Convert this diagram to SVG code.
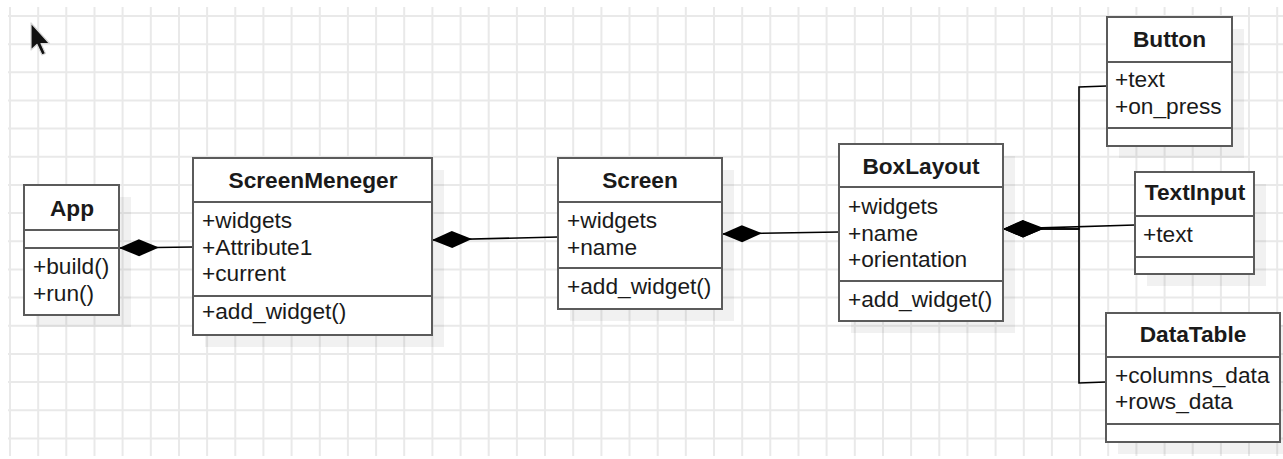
<svg xmlns="http://www.w3.org/2000/svg" width="1283" height="459" viewBox="0 0 1283 459">
  <style>
    .grid line { stroke: #e9e9e9; stroke-width: 2; }
    .shadow { fill: #000; fill-opacity: 0.055; }
    .box { fill: #fff; stroke: #5b5b5b; stroke-width: 2; }
    .div { stroke: #5b5b5b; stroke-width: 2; }
    .title { font-family: "Liberation Sans", Arial, sans-serif; font-size: 22.7px; font-weight: bold; fill: #1a1a1a; text-anchor: middle; }
    .item { font-family: "Liberation Sans", Arial, sans-serif; font-size: 22.7px; fill: #1a1a1a; }
    .conn { fill: none; stroke: #000; stroke-width: 1.6; marker-start: url(#diamond); }
  </style>
  <defs>
    <!-- filled composition diamond, drawn from the owner's edge outward -->
    <marker id="diamond" markerUnits="userSpaceOnUse" viewBox="-1 -10 43 20" markerWidth="43" markerHeight="20" refX="0" refY="0" orient="auto" overflow="visible">
      <path d="M0,0 L20,-8.5 L40,0 L20,8.5 Z" fill="#000"/>
    </marker>
  </defs>

  <rect width="1283" height="459" fill="#fff"/>

  <!-- background grid -->
  <g class="grid" id="grid">
    <line x1="10" y1="7" x2="10" y2="456"/><line x1="38.2" y1="7" x2="38.2" y2="456"/><line x1="66.3" y1="7" x2="66.3" y2="456"/><line x1="94.5" y1="7" x2="94.5" y2="456"/><line x1="122.6" y1="7" x2="122.6" y2="456"/><line x1="150.8" y1="7" x2="150.8" y2="456"/><line x1="179" y1="7" x2="179" y2="456"/><line x1="207.1" y1="7" x2="207.1" y2="456"/><line x1="235.3" y1="7" x2="235.3" y2="456"/><line x1="263.4" y1="7" x2="263.4" y2="456"/><line x1="291.6" y1="7" x2="291.6" y2="456"/><line x1="319.8" y1="7" x2="319.8" y2="456"/><line x1="347.9" y1="7" x2="347.9" y2="456"/><line x1="376.1" y1="7" x2="376.1" y2="456"/><line x1="404.2" y1="7" x2="404.2" y2="456"/><line x1="432.4" y1="7" x2="432.4" y2="456"/><line x1="460.6" y1="7" x2="460.6" y2="456"/><line x1="488.7" y1="7" x2="488.7" y2="456"/><line x1="516.9" y1="7" x2="516.9" y2="456"/><line x1="545" y1="7" x2="545" y2="456"/><line x1="573.2" y1="7" x2="573.2" y2="456"/><line x1="601.4" y1="7" x2="601.4" y2="456"/><line x1="629.5" y1="7" x2="629.5" y2="456"/><line x1="657.7" y1="7" x2="657.7" y2="456"/><line x1="685.8" y1="7" x2="685.8" y2="456"/><line x1="714" y1="7" x2="714" y2="456"/><line x1="742.2" y1="7" x2="742.2" y2="456"/><line x1="770.3" y1="7" x2="770.3" y2="456"/><line x1="798.5" y1="7" x2="798.5" y2="456"/><line x1="826.6" y1="7" x2="826.6" y2="456"/><line x1="854.8" y1="7" x2="854.8" y2="456"/><line x1="883" y1="7" x2="883" y2="456"/><line x1="911.1" y1="7" x2="911.1" y2="456"/><line x1="939.3" y1="7" x2="939.3" y2="456"/><line x1="967.4" y1="7" x2="967.4" y2="456"/><line x1="995.6" y1="7" x2="995.6" y2="456"/><line x1="1023.8" y1="7" x2="1023.8" y2="456"/><line x1="1051.9" y1="7" x2="1051.9" y2="456"/><line x1="1080.1" y1="7" x2="1080.1" y2="456"/><line x1="1108.2" y1="7" x2="1108.2" y2="456"/><line x1="1136.4" y1="7" x2="1136.4" y2="456"/><line x1="1164.6" y1="7" x2="1164.6" y2="456"/><line x1="1192.7" y1="7" x2="1192.7" y2="456"/><line x1="1220.9" y1="7" x2="1220.9" y2="456"/><line x1="1249" y1="7" x2="1249" y2="456"/><line x1="1277.2" y1="7" x2="1277.2" y2="456"/>
    <line x1="8" y1="16" x2="1283" y2="16"/><line x1="8" y1="44.2" x2="1283" y2="44.2"/><line x1="8" y1="72.3" x2="1283" y2="72.3"/><line x1="8" y1="100.5" x2="1283" y2="100.5"/><line x1="8" y1="128.6" x2="1283" y2="128.6"/><line x1="8" y1="156.8" x2="1283" y2="156.8"/><line x1="8" y1="185" x2="1283" y2="185"/><line x1="8" y1="213.1" x2="1283" y2="213.1"/><line x1="8" y1="241.3" x2="1283" y2="241.3"/><line x1="8" y1="269.4" x2="1283" y2="269.4"/><line x1="8" y1="297.6" x2="1283" y2="297.6"/><line x1="8" y1="325.8" x2="1283" y2="325.8"/><line x1="8" y1="353.9" x2="1283" y2="353.9"/><line x1="8" y1="382.1" x2="1283" y2="382.1"/><line x1="8" y1="410.2" x2="1283" y2="410.2"/><line x1="8" y1="438.4" x2="1283" y2="438.4"/>
  </g>

  <!-- mouse pointer -->
  <path id="pointer" d="M31,23 L31,50 L37,44.5 L42,55 L45.5,53.5 L41,43.5 L49.5,43.5 Z" fill="#111" stroke="#d8d8d8" stroke-width="1.2" stroke-linejoin="round"/>

  <!-- connectors -->
  <g id="connectors">
    <path class="conn" d="M119,248 L193,247"/>
    <path class="conn" d="M432,240 L558,237"/>
    <path class="conn" d="M722,234 L839,232"/>
    <path class="conn" d="M1003,229 L1079,229 L1079,87 L1107,86"/>
    <path class="conn" d="M1003,229 L1135,225"/>
    <path class="conn" d="M1003,229 L1079,229 L1079,383 L1106,382"/>
  </g>

  <!-- class: App -->
  <g id="app">
    <rect class="shadow" x="36" y="197" width="95" height="130"/>
    <rect class="box" x="24" y="185" width="95" height="130"/>
    <line class="div" x1="24" y1="230" x2="119" y2="230"/>
    <line class="div" x1="24" y1="248" x2="119" y2="248"/>
    <text class="title" x="72" y="216">App</text>
    <text class="item" x="33" y="274">+build()</text>
    <text class="item" x="33" y="301">+run()</text>
  </g>

  <!-- class: ScreenMeneger -->
  <g id="screen-meneger">
    <rect class="shadow" x="205" y="170" width="239" height="177"/>
    <rect class="box" x="193" y="158" width="239" height="177"/>
    <line class="div" x1="193" y1="202" x2="432" y2="202"/>
    <line class="div" x1="193" y1="296" x2="432" y2="296"/>
    <text class="title" x="313" y="188">ScreenMeneger</text>
    <text class="item" x="202" y="228">+widgets</text>
    <text class="item" x="202" y="254.5">+Attribute1</text>
    <text class="item" x="202" y="281">+current</text>
    <text class="item" x="202" y="319">+add_widget()</text>
  </g>

  <!-- class: Screen -->
  <g id="screen">
    <rect class="shadow" x="570" y="170" width="164" height="151"/>
    <rect class="box" x="558" y="158" width="164" height="151"/>
    <line class="div" x1="558" y1="202" x2="722" y2="202"/>
    <line class="div" x1="558" y1="268" x2="722" y2="268"/>
    <text class="title" x="640" y="188">Screen</text>
    <text class="item" x="567" y="228">+widgets</text>
    <text class="item" x="567" y="254.5">+name</text>
    <text class="item" x="567" y="294">+add_widget()</text>
  </g>

  <!-- class: BoxLayout -->
  <g id="box-layout">
    <rect class="shadow" x="851" y="156" width="164" height="177"/>
    <rect class="box" x="839" y="144" width="164" height="177"/>
    <line class="div" x1="839" y1="187" x2="1003" y2="187"/>
    <line class="div" x1="839" y1="281" x2="1003" y2="281"/>
    <text class="title" x="921" y="174">BoxLayout</text>
    <text class="item" x="848" y="214">+widgets</text>
    <text class="item" x="848" y="240.5">+name</text>
    <text class="item" x="848" y="267">+orientation</text>
    <text class="item" x="848" y="307">+add_widget()</text>
  </g>

  <!-- class: Button -->
  <g id="button">
    <rect class="shadow" x="1119" y="29" width="125" height="129"/>
    <rect class="box" x="1107" y="17" width="125" height="129"/>
    <line class="div" x1="1107" y1="62" x2="1232" y2="62"/>
    <line class="div" x1="1107" y1="128" x2="1232" y2="128"/>
    <text class="title" x="1169.5" y="47">Button</text>
    <text class="item" x="1115" y="87">+text</text>
    <text class="item" x="1115" y="114">+on_press</text>
  </g>

  <!-- class: TextInput -->
  <g id="text-input">
    <rect class="shadow" x="1147" y="184" width="119" height="102"/>
    <rect class="box" x="1135" y="172" width="119" height="102"/>
    <line class="div" x1="1135" y1="216" x2="1254" y2="216"/>
    <line class="div" x1="1135" y1="257" x2="1254" y2="257"/>
    <text class="title" x="1195" y="200">TextInput</text>
    <text class="item" x="1143" y="242">+text</text>
  </g>

  <!-- class: DataTable -->
  <g id="data-table">
    <rect class="shadow" x="1118" y="325" width="174" height="129"/>
    <rect class="box" x="1106" y="313" width="174" height="129"/>
    <line class="div" x1="1106" y1="357" x2="1280" y2="357"/>
    <line class="div" x1="1106" y1="424" x2="1280" y2="424"/>
    <text class="title" x="1193" y="342">DataTable</text>
    <text class="item" x="1115" y="383">+columns_data</text>
    <text class="item" x="1115" y="409">+rows_data</text>
  </g>
</svg>
